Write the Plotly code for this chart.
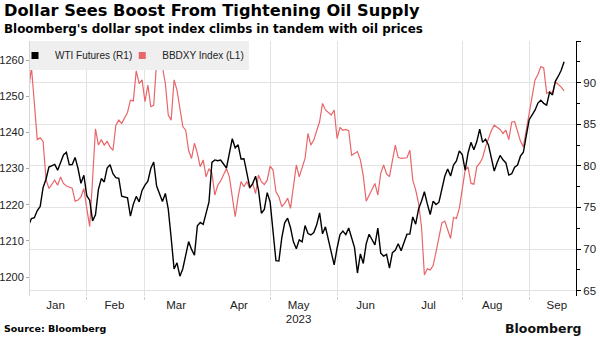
import plotly.graph_objects as go

# ---------------- data ----------------
MONTH_DAYS = {
    1: [3, 4, 5, 6, 9, 10, 11, 12, 13, 17, 18, 19, 20, 23, 24, 25, 26, 27, 30, 31],
    2: [1, 2, 3, 6, 7, 8, 9, 10, 13, 14, 15, 16, 17, 21, 22, 23, 24, 27, 28],
    3: [1, 2, 3, 6, 7, 8, 9, 10, 13, 14, 15, 16, 17, 20, 21, 22, 23, 24, 27, 28, 29, 30, 31],
    4: [3, 4, 5, 6, 10, 11, 12, 13, 14, 17, 18, 19, 20, 21, 24, 25, 26, 27, 28],
    5: [1, 2, 3, 4, 5, 8, 9, 10, 11, 12, 15, 16, 17, 18, 19, 22, 23, 24, 25, 26, 30, 31],
    6: [1, 2, 5, 6, 7, 8, 9, 12, 13, 14, 15, 16, 20, 21, 22, 23, 26, 27, 28, 29, 30],
    7: [3, 5, 6, 7, 10, 11, 12, 13, 14, 17, 18, 19, 20, 21, 24, 25, 26, 27, 28, 31],
    8: [1, 2, 3, 4, 7, 8, 9, 10, 11, 14, 15, 16, 17, 18, 21, 22, 23, 24, 25, 28, 29, 30, 31],
    9: [1, 5, 6, 7, 8, 11, 12, 13, 14, 15, 18, 19],
}
dates = [f"2023-{m:02d}-{d:02d}" for m, ds in MONTH_DAYS.items() for d in ds]

wti_jan = [76.93, 72.84, 73.67, 73.77, 74.63, 75.12, 77.41, 78.39, 79.86, 80.18, 79.48, 80.33, 81.31, 81.62, 80.13, 80.15, 81.01, 79.68, 77.90, 78.87]
wti_feb = [76.41, 75.88, 73.39, 74.11, 77.14, 78.47, 78.06, 79.72, 80.14, 79.06, 78.59, 78.49, 76.34, 76.16, 73.95, 75.39, 76.32, 75.68, 77.05]
wti_mar = [77.69, 78.16, 79.68, 80.46, 77.58, 76.66, 75.72, 76.68, 74.80, 71.33, 67.61, 68.35, 66.74, 67.64, 69.33, 70.90, 69.96, 69.26, 72.81, 73.20, 72.97, 74.37, 75.67]
wti_apr = [80.42, 80.71, 80.61, 80.70, 79.74, 81.53, 83.26, 82.16, 82.52, 80.83, 80.86, 79.16, 77.37, 77.87, 78.76, 77.07, 74.30, 74.76, 76.78]
wti_may = [75.66, 71.66, 68.60, 68.56, 71.34, 73.16, 73.71, 72.56, 70.87, 70.04, 71.11, 70.86, 72.83, 71.86, 71.69, 71.99, 72.91, 74.34, 71.83, 72.67, 69.46, 68.09]
wti_jun = [70.10, 71.74, 72.15, 71.74, 72.53, 71.29, 70.17, 67.12, 69.42, 68.27, 70.62, 71.78, 70.50, 72.53, 69.51, 69.16, 69.37, 67.70, 69.56, 69.86, 70.64]
wti_jul = [69.79, 71.79, 71.80, 73.86, 72.99, 74.83, 75.75, 76.89, 75.42, 74.15, 75.75, 75.35, 75.63, 77.07, 78.74, 79.63, 78.78, 80.09, 80.58, 81.80]
wti_aug = [81.37, 79.49, 81.55, 82.82, 81.94, 82.92, 84.40, 82.82, 83.19, 82.51, 80.99, 79.38, 80.39, 81.25, 80.72, 80.35, 78.89, 79.05, 79.83, 80.10, 81.16, 81.63, 83.63]
wti_sep = [85.55, 86.69, 87.54, 87.87, 87.51, 87.29, 88.84, 88.52, 90.16, 90.77, 91.48, 92.50]

bb_jan = [1256, 1251.5, 1258, 1247, 1238, 1238.5, 1237.5, 1227, 1224.5, 1226.8, 1225.4, 1227.7, 1225.9, 1225.2, 1225, 1224.6, 1221, 1221.3, 1222.2, 1224.5]
bb_feb = [1219, 1214, 1227, 1241, 1236.5, 1238, 1236.5, 1237.5, 1236, 1235, 1242, 1243.4, 1242.5, 1245.5, 1248.9, 1248.7, 1257, 1253.5, 1254.5]
bb_mar = [1248.5, 1253.1, 1247.1, 1247.5, 1259.5, 1259.7, 1258.1, 1253.5, 1244.8, 1243.4, 1254.5, 1251.7, 1246.2, 1241.6, 1240.6, 1235, 1232.8, 1237, 1234.2, 1230.5, 1232.4, 1227.7, 1230]
bb_apr = [1228.7, 1222.7, 1225.4, 1226.6, 1230, 1227.7, 1222.2, 1216.7, 1222.2, 1226.4, 1225, 1226.4, 1224.5, 1225.9, 1223.1, 1228.2, 1226.4, 1225.6, 1226.8]
bb_may = [1230.7, 1229.6, 1223.6, 1222.2, 1219.5, 1220.4, 1221.8, 1219, 1225, 1231, 1227.7, 1230, 1232.8, 1239.7, 1236.5, 1237.9, 1240.2, 1243, 1248, 1246.2, 1244.8, 1246.2]
bb_jun = [1238.3, 1241.4, 1240.6, 1240.8, 1240.5, 1233.7, 1234.2, 1234.7, 1232.4, 1228, 1221, 1222.8, 1225.9, 1222.7, 1228.7, 1231, 1228.5, 1227.8, 1232.2, 1236.5, 1233.1]
bb_jul = [1232.8, 1233, 1235.1, 1226.8, 1224.1, 1220.4, 1214, 1200.6, 1202.3, 1202, 1203.2, 1207, 1211.5, 1215, 1215.5, 1213, 1210.7, 1216.5, 1216.2, 1219]
bb_aug = [1225, 1229.6, 1230.5, 1225.9, 1225.7, 1230.5, 1231.5, 1233, 1236, 1238.5, 1240.5, 1242, 1241.3, 1240.8, 1239.7, 1240.6, 1238, 1242.8, 1243, 1240, 1237.6, 1236, 1240.6]
bb_sep = [1245.7, 1254.5, 1256, 1258.2, 1257.8, 1250.8, 1251.2, 1251, 1254, 1253.3, 1252.5, 1251.5]

wti = wti_jan + wti_feb + wti_mar + wti_apr + wti_may + wti_jun + wti_jul + wti_aug + wti_sep
bbdxy = bb_jan + bb_feb + bb_mar + bb_apr + bb_may + bb_jun + bb_jul + bb_aug + bb_sep
assert len(wti) == len(dates) == len(bbdxy), (len(wti), len(dates), len(bbdxy))

month_label_pos = ["2023-01-17 07:00", "2023-02-14 12:00", "2023-03-15 17:00", "2023-04-14 07:00",
                   "2023-05-12 19:00", "2023-06-14 19:00", "2023-07-14 10:00", "2023-08-15 07:00",
                   "2023-09-14 12:00"]
month_labels = ["Jan", "Feb", "Mar", "Apr", "May<br>2023", "Jun", "Jul", "Aug", "Sep"]
month_starts = ["2023-02-01", "2023-03-01", "2023-04-01", "2023-05-01", "2023-06-01",
                "2023-07-01", "2023-08-01", "2023-09-01"]
left_ticks = [1200, 1210, 1220, 1230, 1240, 1250, 1260]
right_ticks = [65, 70, 75, 80, 85, 90, 95]
right_ticktext = ["65", "70", "75", "80", "85", "90", ""]
right_minor = [67.5, 72.5, 77.5, 82.5, 87.5, 92.5]

TITLE = "Dollar Sees Boost From Tightening Oil Supply"
SUBTITLE = "Bloomberg's dollar spot index climbs in tandem with oil prices"
SOURCE = "Source: Bloomberg"

# ---------------- style ----------------
W, H = 600, 337
ML, MR, MT, MB = 30, 24, 41, 41
PW, PH = W - ML - MR, H - MT - MB
RED = "#e8666a"
FONT = "DejaVu Sans"
TICKFONT = "Liberation Sans"


def px(x):
    return (x - ML) / PW


def py(y):
    return (H - MB - y) / PH


fig = go.Figure()
fig.add_trace(go.Scatter(x=dates, y=bbdxy, mode="lines", name="BBDXY Index (L1)",
                         line=dict(color=RED, width=1.2), yaxis="y", showlegend=False))
fig.add_trace(go.Scatter(x=dates, y=wti, mode="lines", name="WTI Futures (R1)",
                         line=dict(color="black", width=1.4), yaxis="y2", showlegend=False))
# legend entries (square swatches)
fig.add_trace(go.Scatter(x=[None], y=[None], mode="markers", name="WTI Futures (R1)",
                         marker=dict(symbol="square", size=7, color="black"), yaxis="y2"))
fig.add_trace(go.Scatter(x=[None], y=[None], mode="markers", name="BBDXY Index (L1)",
                         marker=dict(symbol="square", size=7, color=RED), yaxis="y"))

fig.update_layout(
    width=W, height=H,
    margin=dict(l=ML, r=MR, t=MT, b=MB, autoexpand=False),
    paper_bgcolor="white", plot_bgcolor="white",
    font=dict(family=FONT, size=11, color="#222"),
    xaxis=dict(
        type="date", automargin=False,
        range=["2023-01-04 12:00", "2023-09-25 02:00"],
        rangebreaks=[dict(bounds=["sat", "mon"])],
        tickmode="array", tickvals=month_label_pos, ticktext=month_labels,
        ticks="", showgrid=False, zeroline=False, showline=False,
        tickfont=dict(size=11.5, color="#222", family=TICKFONT),
        minor=dict(tickmode="array", tickvals=month_starts, showgrid=True,
                   gridcolor="#e3e3e3", gridwidth=1, ticks="outside", ticklen=3,
                   tickcolor="#cccccc"),
    ),
    yaxis=dict(
        automargin=False,
        range=[1194.8, 1265.25], tickmode="array", tickvals=left_ticks,
        ticks="outside", ticklen=3, tickcolor="#aaaaaa", showgrid=False,
        showline=True, linecolor="#d6d6d6", zeroline=False,
        ticklabelstandoff=0,
        tickfont=dict(size=11, color="#222", family=TICKFONT),
    ),
    yaxis2=dict(
        automargin=False,
        overlaying="y", side="right", range=[64.36, 95],
        tickmode="array", tickvals=right_ticks, ticktext=right_ticktext,
        ticks="outside", ticklen=4, tickcolor="black", showgrid=True,
        gridcolor="#e3e3e3", showline=True, linecolor="black", zeroline=False,
        tickfont=dict(size=11.5, color="#222", family=TICKFONT),
        minor=dict(tickmode="array", tickvals=right_minor, ticks="outside",
                   ticklen=3, tickcolor="black", showgrid=False),
    ),
    legend=dict(
        orientation="h", x=0, xanchor="left", y=1, yanchor="top",
        bgcolor="#efefef", font=dict(size=10, color="#222", family=TICKFONT),
        itemwidth=30, indentation=-15, traceorder="normal",
    ),
    annotations=[
        dict(text=f"<b>{TITLE}</b>", x=px(2), y=py(11), xref="paper", yref="paper",
             xanchor="left", yanchor="middle", showarrow=False,
             font=dict(size=16.2, color="black", family=FONT)),
        dict(text=f"<b>{SUBTITLE}</b>", x=px(2), y=py(29), xref="paper", yref="paper",
             xanchor="left", yanchor="middle", showarrow=False,
             font=dict(size=11.9, color="black", family=FONT)),
        dict(text=f"<b>{SOURCE}</b>", x=px(2), y=py(328), xref="paper", yref="paper",
             xanchor="left", yanchor="middle", showarrow=False,
             font=dict(size=9.5, color="black", family=FONT)),
        dict(text="<b>Bloomberg</b>", x=px(584), y=py(328), xref="paper", yref="paper",
             xanchor="right", yanchor="middle", showarrow=False,
             font=dict(size=12.5, color="#111", family=FONT)),
    ],
)

fig.write_html("out.html")
